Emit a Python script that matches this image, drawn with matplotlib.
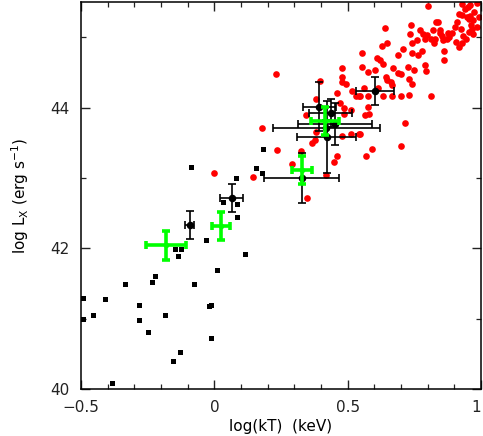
#!/usr/bin/env python
# -*- coding: utf-8 -*-

import matplotlib
matplotlib.use("Agg")
import matplotlib.pyplot as plt
from matplotlib.ticker import MultipleLocator

# red sample (x = log kT, y = log Lx)
red_x = [0.803, 0.930, 0.959, 0.986, 0.950, 0.918, 0.930, 0.946, 0.959, 0.993,
         0.955, 0.971, 0.961, 0.640, 0.736, 0.831, 0.837, 0.771, 0.819, 0.846,
         0.903, 0.925, 0.734, 0.784, 0.796, 0.846, 0.853, 0.875, 0.890, 0.955,
         0.971, 0.791, 0.811, 0.827, 0.856, 0.874, 0.905, 0.934, 0.929, 0.919,
         0.741, 0.759, 0.646, 0.628, 0.709, 0.740, 0.778, 0.824, 0.555, 0.611,
         0.621, 0.631, 0.690, 0.765, 0.861, 0.862, 0.553, 0.603, 0.671, 0.725,
         0.749, 0.790, 0.792, 0.690, 0.699, 0.578, 0.643, 0.649, 0.661, 0.666,
         0.731, 0.742, 0.811, 0.699, 0.731, 0.665, 0.615, 0.634, 0.578, 0.546,
         0.578, 0.565, 0.580, 0.715, 0.546, 0.699, 0.590, 0.568,
         0.230, 0.478, 0.478, 0.478, 0.493, 0.461, 0.396, 0.517, 0.531, 0.544,
         0.561, 0.381, 0.470, 0.485, 0.511, 0.343, 0.478, 0.513, 0.544, 0.378,
         0.365, 0.487, 0.178, 0.381, 0.234, 0.324, 0.461, 0.447, 0.290, 0.146,
         0.419, 0.349, 0.000,
         0.975, 0.940, 0.910, 0.965, 0.880, 0.985, 0.945]
red_y = [45.45, 45.47, 45.46, 45.49, 45.43, 45.33, 45.32, 45.29, 45.30, 45.29,
         45.26, 45.24, 45.18, 45.13, 45.18, 45.21, 45.21, 45.10, 45.10, 45.10,
         45.15, 45.11, 45.05, 45.04, 45.03, 45.06, 45.02, 45.06, 45.06, 45.07,
         45.04, 44.97, 44.97, 44.97, 44.96, 44.97, 44.93, 45.02, 44.92, 44.86,
         44.92, 44.96, 44.92, 44.88, 44.83, 44.78, 44.81, 44.92, 44.78, 44.71,
         44.68, 44.62, 44.74, 44.74, 44.80, 44.67, 44.58, 44.54, 44.56, 44.57,
         44.53, 44.60, 44.52, 44.49, 44.48, 44.50, 44.44, 44.39, 44.37, 44.32,
         44.41, 44.34, 44.17, 44.17, 44.18, 44.17, 44.28, 44.16, 44.17, 44.16,
         44.01, 43.89, 43.91, 43.78, 43.62, 43.46, 43.41, 43.31,
         44.48, 44.56, 44.43, 44.36, 44.34, 44.21, 44.38, 44.23, 44.16, 44.17,
         44.28, 44.12, 44.06, 44.00, 43.97, 43.90, 43.60, 43.63, 43.63, 43.54,
         43.49, 43.91, 43.71, 43.65, 43.40, 43.38, 43.31, 43.23, 43.20, 43.01,
         43.04, 42.71, 43.07,
         45.36, 45.40, 45.22, 45.12, 45.00, 45.14, 44.98]

# black squares
sq_x = [-0.494, -0.494, -0.454, -0.409, -0.336, -0.283, -0.283, -0.250, -0.235, -0.221,
        -0.186, -0.155, -0.129, -0.385, -0.148, -0.136, -0.124, -0.075, -0.031, -0.019,
        -0.014, -0.0125, 0.009, 0.114, 0.084, 0.086, 0.034, -0.086, 0.1825, 0.156,
        0.179, 0.0825]
sq_y = [41.30, 41.00, 41.05, 41.28, 41.49, 41.19, 40.98, 40.81, 41.52, 41.60,
        41.05, 40.40, 40.53, 40.08, 41.99, 41.89, 41.99, 41.49, 42.12, 41.18,
        41.19, 40.72, 41.69, 41.92, 42.44, 42.63, 42.66, 43.15, 43.41, 43.14,
        43.07, 43.00]

# black points with error bars
blk_x = [-0.092, 0.065, 0.3275, 0.421, 0.453, 0.420, 0.436, 0.394, 0.6025]
blk_y = [42.33, 42.71, 43.00, 43.58, 43.77, 43.71, 43.92, 44.01, 44.23]
blk_xerr = [0.017, 0.042, 0.14, 0.112, 0.14, 0.20, 0.081, 0.063, 0.07]
blk_yerr = [0.20, 0.20, 0.36, 0.51, 0.30, 0.12, 0.20, 0.35, 0.20]

# green points with error bars
grn_x = [-0.181, 0.024, 0.3275, 0.414]
grn_y = [42.04, 42.32, 43.11, 43.81]
grn_xerr = [0.074, 0.034, 0.037, 0.053]
grn_yerr = [0.20, 0.20, 0.20, 0.20]


def plot_lx_kt(save_name="out.png"):
    plt.rcParams["font.family"] = ["DejaVu Sans"]

    fig = plt.figure(figsize=(4.83, 4.36), dpi=100)
    ax = fig.add_axes([0.1677, 0.1078, 0.8282, 0.8876])

    ax.plot(red_x, red_y, "o", color="red", markersize=4.8, markeredgewidth=0, zorder=2)
    ax.plot(sq_x, sq_y, "s", color="black", markersize=3.6, markeredgewidth=0, zorder=3)

    ax.errorbar(blk_x, blk_y, xerr=blk_xerr, yerr=blk_yerr, fmt="o", color="black",
                markersize=4.4, elinewidth=1.2, capsize=2.6, capthick=1.2, zorder=4)
    ax.errorbar(grn_x, grn_y, xerr=grn_xerr, yerr=grn_yerr, fmt="o", color="#00ff00",
                markersize=3, elinewidth=2.6, capsize=2.8, capthick=2.6, zorder=5)

    ax.set_xlim(-0.5, 1.0)
    ax.set_ylim(40, 45.5)
    ax.xaxis.set_major_locator(MultipleLocator(0.5))
    ax.xaxis.set_minor_locator(MultipleLocator(0.1))
    ax.yaxis.set_major_locator(MultipleLocator(2))
    ax.yaxis.set_minor_locator(MultipleLocator(1))
    ax.xaxis.set_major_formatter(plt.FuncFormatter(
        lambda v, p: "%g" % v if v >= 0 else "\u2212%g" % abs(v)))

    ax.tick_params(which="both", direction="in", top=True, right=True,
                   labelsize=11, colors="#222222")
    ax.tick_params(which="major", length=6.5, width=1.0, pad=8)
    ax.tick_params(which="minor", length=3.6, width=0.9)
    for s in ax.spines.values():
        s.set_linewidth(1.1)

    # keep the "1" at the right edge inside the figure
    fig.canvas.draw()
    for lab in ax.get_xticklabels():
        if lab.get_text() == "1":
            lab.set_horizontalalignment("right")

    ax.set_xlabel("log(kT)  (keV)", fontsize=11, labelpad=3)
    ax.set_ylabel("log L$_\\mathregular{X}$ (erg s$^\\mathregular{-1}$)", fontsize=11, labelpad=14)

    fig.savefig(save_name, dpi=100)
    return save_name


def main():
    plot_lx_kt()
    return 0


if __name__ == "__main__":
    main()
